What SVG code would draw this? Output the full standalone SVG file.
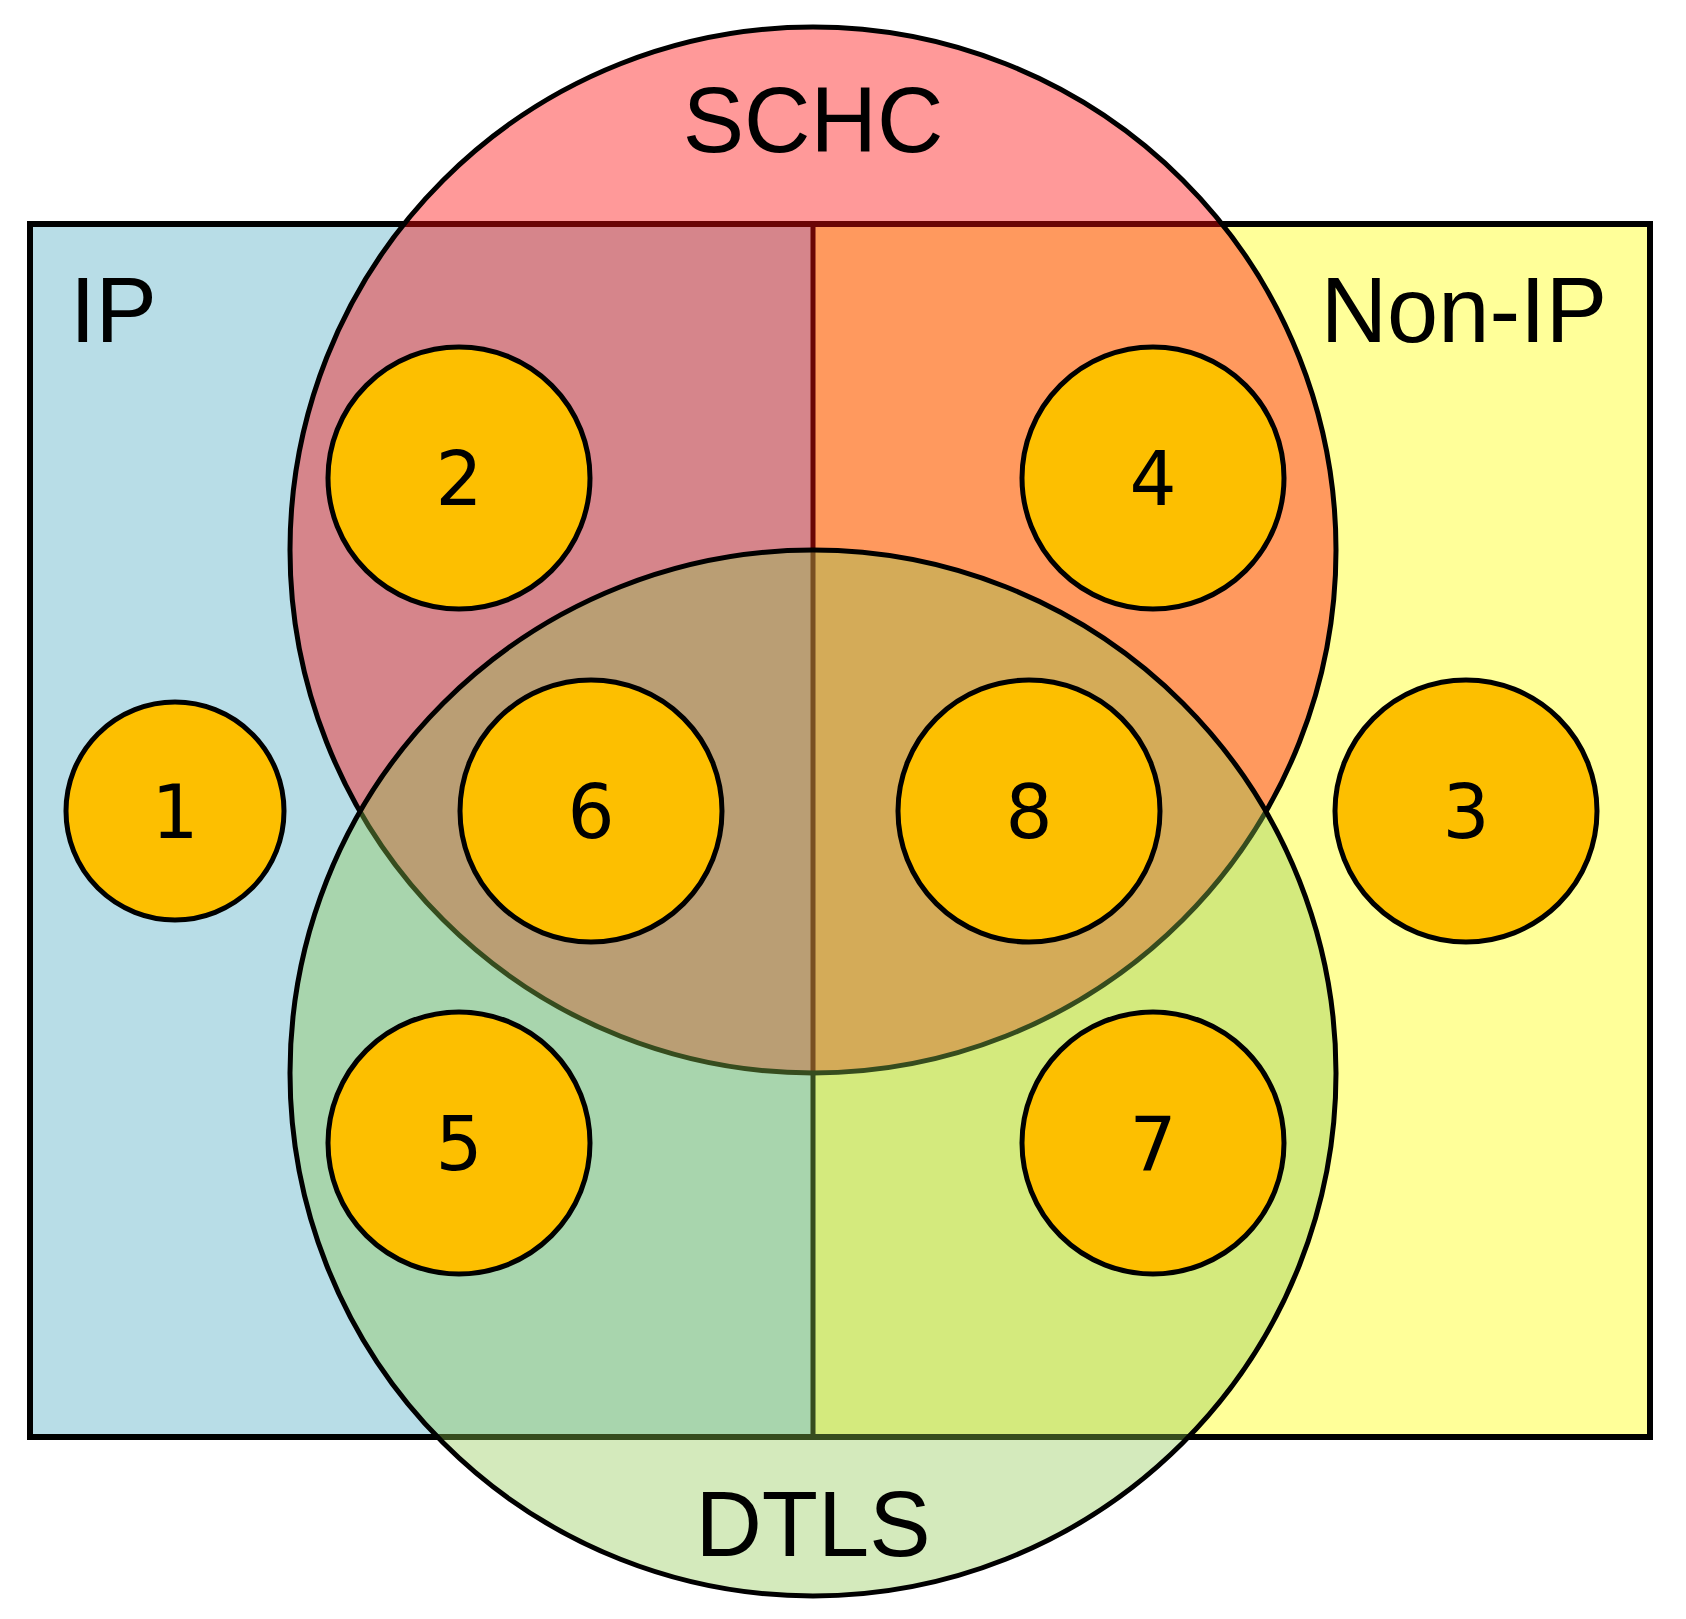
<svg xmlns="http://www.w3.org/2000/svg" width="1686" height="1619" viewBox="0 0 1686 1619">
<style>
.big{font-family:"Liberation Sans",Arial,sans-serif;font-size:92px;fill:#000}
.num{font-family:"DejaVu Sans",sans-serif;font-size:74px;fill:#000;text-anchor:middle}
.sc{fill:#fdbf00;stroke:#000;stroke-width:5}
</style>
<rect width="1686" height="1619" fill="#fff"/>
<g id="ip"><rect x="30" y="224" width="783" height="1213" fill="#b8dde7"/></g>
<g id="nonip"><rect x="813" y="224" width="837" height="1213" fill="#ffff99"/></g>
<g id="connectors"><line x1="813" y1="224" x2="813" y2="1437" stroke="#000" stroke-width="5"/>
<rect x="30" y="224" width="1620" height="1213" fill="none" stroke="#000" stroke-width="6"/></g>
<g id="schc"><circle cx="813" cy="550" r="523" fill="#ff0c0c" fill-opacity="0.42" stroke="#000" stroke-width="5"/></g>
<g id="dtls"><circle cx="813" cy="1073" r="523" fill="#8ec84f" fill-opacity="0.38" stroke="#000" stroke-width="5"/></g>
<text class="big" x="813" y="152" text-anchor="middle">SCHC</text>
<text class="big" x="70" y="342">IP</text>
<text class="big" x="1607" y="342" text-anchor="end">Non-IP</text>
<text class="big" x="813" y="1556" text-anchor="middle">DTLS</text>
<g id="n1"><circle class="sc" cx="175" cy="811" r="109"/><text class="num" x="175" y="838">1</text></g>
<g id="n2"><circle class="sc" cx="459" cy="478" r="131"/><text class="num" x="459" y="505">2</text></g>
<g id="n3"><circle class="sc" cx="1466" cy="811" r="131"/><text class="num" x="1466" y="838">3</text></g>
<g id="n4"><circle class="sc" cx="1153" cy="478" r="131"/><text class="num" x="1153" y="505">4</text></g>
<g id="n5"><circle class="sc" cx="459" cy="1143" r="131"/><text class="num" x="459" y="1170">5</text></g>
<g id="n6"><circle class="sc" cx="591" cy="811" r="131"/><text class="num" x="591" y="838">6</text></g>
<g id="n7"><circle class="sc" cx="1153" cy="1143" r="131"/><text class="num" x="1153" y="1170">7</text></g>
<g id="n8"><circle class="sc" cx="1029" cy="811" r="131"/><text class="num" x="1029" y="838">8</text></g>
</svg>
